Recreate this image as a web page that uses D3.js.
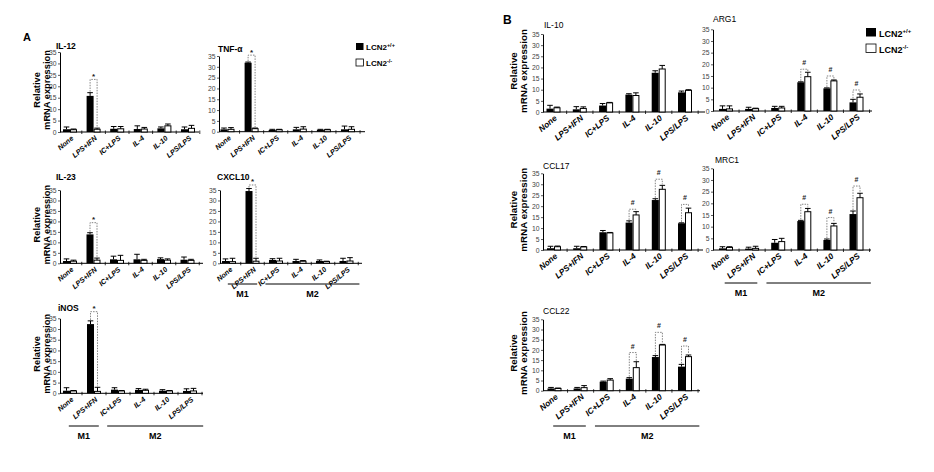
<!DOCTYPE html>
<html><head><meta charset="utf-8">
<script src="https://cdn.jsdelivr.net/npm/d3@7"></script>
<style>
html,body{margin:0;padding:0;background:#fff;}
svg{display:block;}
</style></head><body>
<svg id="chart" width="934" height="472"></svg>
<script>
// ---------- data ----------
const categories = ["None","LPS+IFN","IC+LPS","IL-4","IL-10","LPS/LPS"];
const yTicks = [0,5,10,15,20,25,30,35];
const yLabelLines = ["Relative","mRNA expression"];
const legendBase = ["LCN2","LCN2"];
const legendSup = ["+/+","-/-"];
const groupNames = ["M1","M2"];
const panelLetters = ["A","B"];
const sigMarkA = "*";
const sigMarkB = "#";

// IL-12
const il12WT    = [1.2, 15.8, 1.4, 1.3, 1.6, 1.2];
const il12WTErr = [1.0, 1.4, 1.0, 1.4, 0.6, 1.0];
const il12KO    = [1.0, 1.2, 1.4, 1.3, 2.7, 1.6];
const il12KOErr = [0.3, 0.5, 1.0, 0.7, 0.8, 1.3];
const il12Sig   = [null, 23.0, null, null, null, null];
// TNF-alpha
const tnfWT    = [1.1, 31.9, 0.8, 1.1, 0.9, 1.1];
const tnfWTErr = [0.6, 0.3, 0.3, 0.9, 0.2, 1.5];
const tnfKO    = [1.1, 1.4, 0.9, 1.2, 0.9, 1.1];
const tnfKOErr = [0.8, 0.3, 0.2, 1.1, 0.2, 1.2];
const tnfSig   = [null, 35.4, null, null, null, null];
// IL-23
const il23WT    = [1.1, 13.8, 1.9, 1.9, 2.0, 1.7];
const il23WTErr = [1.0, 0.8, 1.5, 2.4, 0.6, 1.3];
const il23KO    = [1.0, 1.5, 1.4, 1.4, 1.5, 1.4];
const il23KOErr = [0.5, 1.0, 2.4, 0.5, 0.6, 0.5];
const il23Sig   = [null, 19.4, null, null, null, null];
// CXCL10
const cxcl10WT    = [1.1, 34.5, 1.6, 1.1, 1.1, 1.1];
const cxcl10WTErr = [1.0, 1.2, 0.6, 0.8, 0.5, 1.3];
const cxcl10KO    = [0.8, 1.0, 1.1, 1.0, 0.8, 1.1];
const cxcl10KOErr = [1.6, 1.4, 1.3, 0.3, 0.2, 1.6];
const cxcl10Sig   = [null, 37.4, null, null, null, null];
// iNOS
const inosWT    = [1.2, 32.3, 1.7, 1.6, 1.2, 1.1];
const inosWTErr = [1.4, 1.5, 0.9, 0.6, 0.5, 1.0];
const inosKO    = [1.1, 0.9, 1.1, 1.4, 1.1, 1.1];
const inosKOErr = [0.2, 1.9, 0.2, 0.5, 0.2, 1.2];
const inosSig   = [null, 38.1, null, null, null, null];
// IL-10
const il10WT    = [1.5, 1.2, 2.9, 7.8, 17.6, 8.8];
const il10WTErr = [1.5, 1.2, 0.9, 0.4, 0.9, 0.6];
const il10KO    = [1.9, 1.6, 4.1, 7.4, 19.3, 9.7];
const il10KOErr = [0.3, 0.7, 0.2, 1.2, 1.6, 0.3];
const il10Sig   = [null, null, null, null, null, null];
// ARG1
const arg1WT    = [0.9, 0.9, 1.3, 12.3, 9.7, 3.7];
const arg1WTErr = [1.3, 0.7, 0.7, 0.2, 0.2, 1.3];
const arg1KO    = [0.9, 1.0, 1.3, 14.7, 12.9, 5.9];
const arg1KOErr = [1.3, 0.2, 0.7, 1.9, 0.4, 1.4];
const arg1Sig   = [null, null, null, 17.9, 15.0, 9.0];
// CCL17
const ccl17WT    = [0.8, 0.8, 8.1, 12.5, 22.8, 12.2];
const ccl17WTErr = [0.9, 0.9, 0.8, 0.8, 0.6, 0.2];
const ccl17KO    = [1.5, 1.4, 7.8, 16.0, 27.7, 17.0];
const ccl17KOErr = [0.3, 0.2, 0.2, 1.5, 1.8, 2.1];
const ccl17Sig   = [null, null, null, 18.6, 32.3, 20.8];
// MRC1
const mrc1WT    = [0.7, 0.6, 3.1, 12.4, 4.3, 15.4];
const mrc1WTErr = [0.7, 0.6, 1.4, 0.3, 0.4, 1.3];
const mrc1KO    = [1.1, 0.7, 3.6, 16.4, 10.3, 22.4];
const mrc1KOErr = [0.3, 0.9, 1.4, 1.4, 1.1, 1.9];
const mrc1Sig   = [null, null, null, 19.6, 13.9, 27.4];
// CCL22
const ccl22WT    = [1.1, 1.1, 4.4, 5.9, 16.5, 11.8];
const ccl22WTErr = [0.5, 0.5, 0.3, 0.5, 0.7, 1.1];
const ccl22KO    = [1.1, 1.5, 5.2, 11.3, 22.4, 16.7];
const ccl22KOErr = [0.2, 1.0, 0.7, 2.9, 0.3, 0.8];
const ccl22Sig   = [null, null, null, 18.7, 28.6, 21.9];

// ---------- layout ----------
const panels = [
 {fig:"A", title:"IL-12", wt:il12WT, wtErr:il12WTErr, ko:il12KO, koErr:il12KOErr, sig:il12Sig,
  x0:60, x1:199, yBase:132, yTop:52, c0:70, step:23.6, tx:56, ty:48.5, ylab:true, groups:null},
 {fig:"A", title:"TNF-\u03b1", wt:tnfWT, wtErr:tnfWTErr, ko:tnfKO, koErr:tnfKOErr, sig:tnfSig,
  x0:219, x1:365, yBase:131.7, yTop:56, c0:227.5, step:24.1, tx:218, ty:51.5, ylab:false, groups:null},
 {fig:"A", title:"IL-23", wt:il23WT, wtErr:il23WTErr, ko:il23KO, koErr:il23KOErr, sig:il23Sig,
  x0:60, x1:203, yBase:263.3, yTop:190, c0:70, step:23.5, tx:56, ty:180, ylab:true, groups:null},
 {fig:"A", title:"CXCL10", wt:cxcl10WT, wtErr:cxcl10WTErr, ko:cxcl10KO, koErr:cxcl10KOErr, sig:cxcl10Sig,
  x0:220, x1:362, yBase:263.3, yTop:190, c0:229, step:23.5, tx:217, ty:180, ylab:false, groups:284},
 {fig:"A", title:"iNOS", wt:inosWT, wtErr:inosWTErr, ko:inosKO, koErr:inosKOErr, sig:inosSig,
  x0:60, x1:203, yBase:393.3, yTop:318.3, c0:70, step:24, tx:58, ty:311, ylab:true, groups:426},
 {fig:"B", title:"IL-10", wt:il10WT, wtErr:il10WTErr, ko:il10KO, koErr:il10KOErr, sig:il10Sig,
  x0:543, x1:705, yBase:112, yTop:34, c0:553.5, step:26.3, tx:544, ty:28, ylab:true, groups:null},
 {fig:"B", title:"ARG1", wt:arg1WT, wtErr:arg1WTErr, ko:arg1KO, koErr:arg1KOErr, sig:arg1Sig,
  x0:713, x1:872, yBase:111, yTop:29.3, c0:726, step:26.1, tx:713, ty:22, ylab:false, groups:null},
 {fig:"B", title:"CCL17", wt:ccl17WT, wtErr:ccl17WTErr, ko:ccl17KO, koErr:ccl17KOErr, sig:ccl17Sig,
  x0:543, x1:703, yBase:250, yTop:173.3, c0:554, step:26.2, tx:543, ty:169, ylab:true, groups:null},
 {fig:"B", title:"MRC1", wt:mrc1WT, wtErr:mrc1WTErr, ko:mrc1KO, koErr:mrc1KOErr, sig:mrc1Sig,
  x0:713, x1:871, yBase:250, yTop:168.3, c0:726, step:26.1, tx:715, ty:163, ylab:false, groups:283},
 {fig:"B", title:"CCL22", wt:ccl22WT, wtErr:ccl22WTErr, ko:ccl22KO, koErr:ccl22KOErr, sig:ccl22Sig,
  x0:543, x1:700, yBase:390.7, yTop:319.3, c0:554.5, step:26.1, tx:543, ty:314, ylab:true, groups:426},
];

const FONT = "'Liberation Sans', Arial, Helvetica, sans-serif";
const svg = d3.select("#chart");
svg.append("rect").attr("width",934).attr("height",472).attr("fill","#fff");

panels.forEach(p => {
  const isA = p.fig === "A";
  const g = svg.append("g");
  const n = categories.length;
  const x = d3.scaleBand().domain(categories)
    .range([p.c0 - p.step/2, p.c0 + p.step*(n - 0.5)]).padding(0);
  const y = d3.scaleLinear().domain([0,35]).range([p.yBase, p.yTop]);
  const cx = c => x(c) + x.bandwidth()/2;
  const bw = 7;

  // y axis
  const ax = g.append("g").attr("transform", `translate(${p.x0},0)`)
    .call(d3.axisLeft(y).tickValues(yTicks).tickSize(2).tickSizeOuter(0).tickPadding(1.5));
  ax.attr("font-family", FONT).attr("font-size", 6.8);
  ax.select(".domain").attr("stroke","#000").attr("stroke-width",1);
  ax.selectAll(".tick line").attr("stroke","#333").attr("stroke-width",0.8);
  ax.selectAll(".tick text").attr("fill","#444");

  // x axis line + boundary ticks
  g.append("line").attr("x1", p.x0).attr("x2", p.x1).attr("y1", p.yBase).attr("y2", p.yBase)
    .attr("stroke","#000").attr("stroke-width",1);
  g.selectAll(".xt").data(categories).enter().append("line")
    .attr("x1", c => x(c) + x.bandwidth()).attr("x2", c => x(c) + x.bandwidth())
    .attr("y1", p.yBase - 1.5).attr("y2", p.yBase + 2)
    .attr("stroke","#000").attr("stroke-width",0.8);

  const rows = categories.map((c,i) => ({c, wt:p.wt[i], wtE:p.wtErr[i], ko:p.ko[i], koE:p.koErr[i], sig:p.sig[i]}));

  // bars
  g.selectAll(".bw").data(rows).enter().append("rect")
    .attr("x", d => cx(d.c) - bw).attr("width", bw)
    .attr("y", d => y(d.wt)).attr("height", d => y(0) - y(d.wt))
    .attr("fill","#000");
  g.selectAll(".bk").data(rows).enter().append("rect")
    .attr("x", d => cx(d.c) + 0.5).attr("width", bw - 1)
    .attr("y", d => y(d.ko)).attr("height", d => y(0) - y(d.ko))
    .attr("fill","#fff").attr("stroke","#000").attr("stroke-width",1);

  // error bars
  const err = (xc, v, e) => `M${xc},${y(v)}V${y(v+e)}M${xc-2.8},${y(v+e)}H${xc+2.8}`;
  g.selectAll(".ew").data(rows).enter().append("path")
    .attr("d", d => err(cx(d.c) - bw/2, d.wt, d.wtE))
    .attr("stroke","#000").attr("stroke-width",1).attr("fill","none");
  g.selectAll(".ek").data(rows).enter().append("path")
    .attr("d", d => err(cx(d.c) + bw/2, d.ko, d.koE))
    .attr("stroke","#000").attr("stroke-width",1).attr("fill","none");

  // significance brackets
  const sigRows = rows.filter(d => d.sig !== null);
  g.selectAll(".br").data(sigRows).enter().append("path")
    .attr("d", d => `M${cx(d.c)-bw/2},${y(d.wt+d.wtE)-1}V${y(d.sig)}H${cx(d.c)+bw/2}V${y(d.ko+d.koE)-1}`)
    .attr("stroke","#666").attr("stroke-width",0.8).attr("fill","none")
    .attr("stroke-dasharray","1.5,1.2");
  g.selectAll(".mk").data(sigRows).enter().append("text")
    .attr("x", d => cx(d.c)).attr("y", d => y(d.sig) + (isA ? -0.5 : -4))
    .attr("text-anchor","middle").attr("font-family",FONT)
    .attr("font-size", isA ? 8 : 7).attr("font-weight","bold").attr("fill","#222")
    .text(isA ? sigMarkA : sigMarkB);

  // category labels
  g.selectAll(".cl").data(categories).enter().append("text")
    .attr("transform", c => `translate(${cx(c)+4},${p.yBase+7}) rotate(-40)`)
    .attr("text-anchor","end").attr("font-family",FONT)
    .attr("font-size", isA ? 7.2 : 8.3).attr("font-weight","bold").attr("font-style","italic")
    .text(c => c);

  // title
  g.append("text").attr("x", p.tx).attr("y", p.ty).attr("font-family",FONT)
    .attr("font-size", isA ? 8.5 : 8.5).attr("font-weight", isA ? "bold" : "normal")
    .text(p.title);

  // y label
  if (p.ylab) {
    const yc = (p.yBase + p.yTop)/2 - 2;
    const xs = isA ? [39.5, 50] : [517, 527];
    yLabelLines.forEach((t,i) => {
      g.append("text").attr("transform", `translate(${xs[i]},${yc}) rotate(-90)`)
        .attr("text-anchor","middle").attr("font-family",FONT)
        .attr("font-size", isA ? 9.3 : 9.8).attr("font-weight","bold").text(t);
    });
  }

  // M1 / M2 group lines
  if (p.groups !== null) {
    const spans = [
      [cx(categories[0]) - 0.05*p.step, cx(categories[1]) + 0.2*p.step],
      [cx(categories[2]) - 0.45*p.step, cx(categories[5]) + 0.55*p.step]
    ];
    spans.forEach((s,i) => {
      g.append("line").attr("x1", s[0]).attr("x2", s[1]).attr("y1", p.groups).attr("y2", p.groups)
        .attr("stroke","#000").attr("stroke-width",1);
      g.append("text").attr("x", (s[0]+s[1])/2).attr("y", p.groups + 13)
        .attr("text-anchor","middle").attr("font-family",FONT)
        .attr("font-size",9).attr("font-weight","bold").text(groupNames[i]);
    });
  }
});

// panel letters
svg.append("text").attr("x",23).attr("y",41).attr("font-family",FONT).attr("font-size",11)
  .attr("font-weight","bold").text(panelLetters[0]);
svg.append("text").attr("x",503).attr("y",23.5).attr("font-family",FONT).attr("font-size",12)
  .attr("font-weight","bold").text(panelLetters[1]);

// legends
const legends = [
  {x:356, y:43, w:7.5, h:7, gap:16, fs:8, ss:5.5, tx:366},
  {x:866, y:28, w:10, h:8.5, gap:16, fs:9, ss:6, tx:879}
];
legends.forEach(L => {
  [0,1].forEach(i => {
    svg.append("rect").attr("x", L.x).attr("y", L.y + i*L.gap).attr("width", L.w).attr("height", L.h)
      .attr("fill", i === 0 ? "#000" : "#fff").attr("stroke","#000").attr("stroke-width", i === 0 ? 0 : 0.8);
    const t = svg.append("text").attr("x", L.tx).attr("y", L.y + i*L.gap + L.h)
      .attr("font-family",FONT).attr("font-size",L.fs).attr("font-weight","bold");
    t.append("tspan").text(legendBase[i]);
    t.append("tspan").attr("dy", -L.fs*0.4).attr("font-size", L.ss).text(legendSup[i]);
  });
});
</script>
</body></html>
